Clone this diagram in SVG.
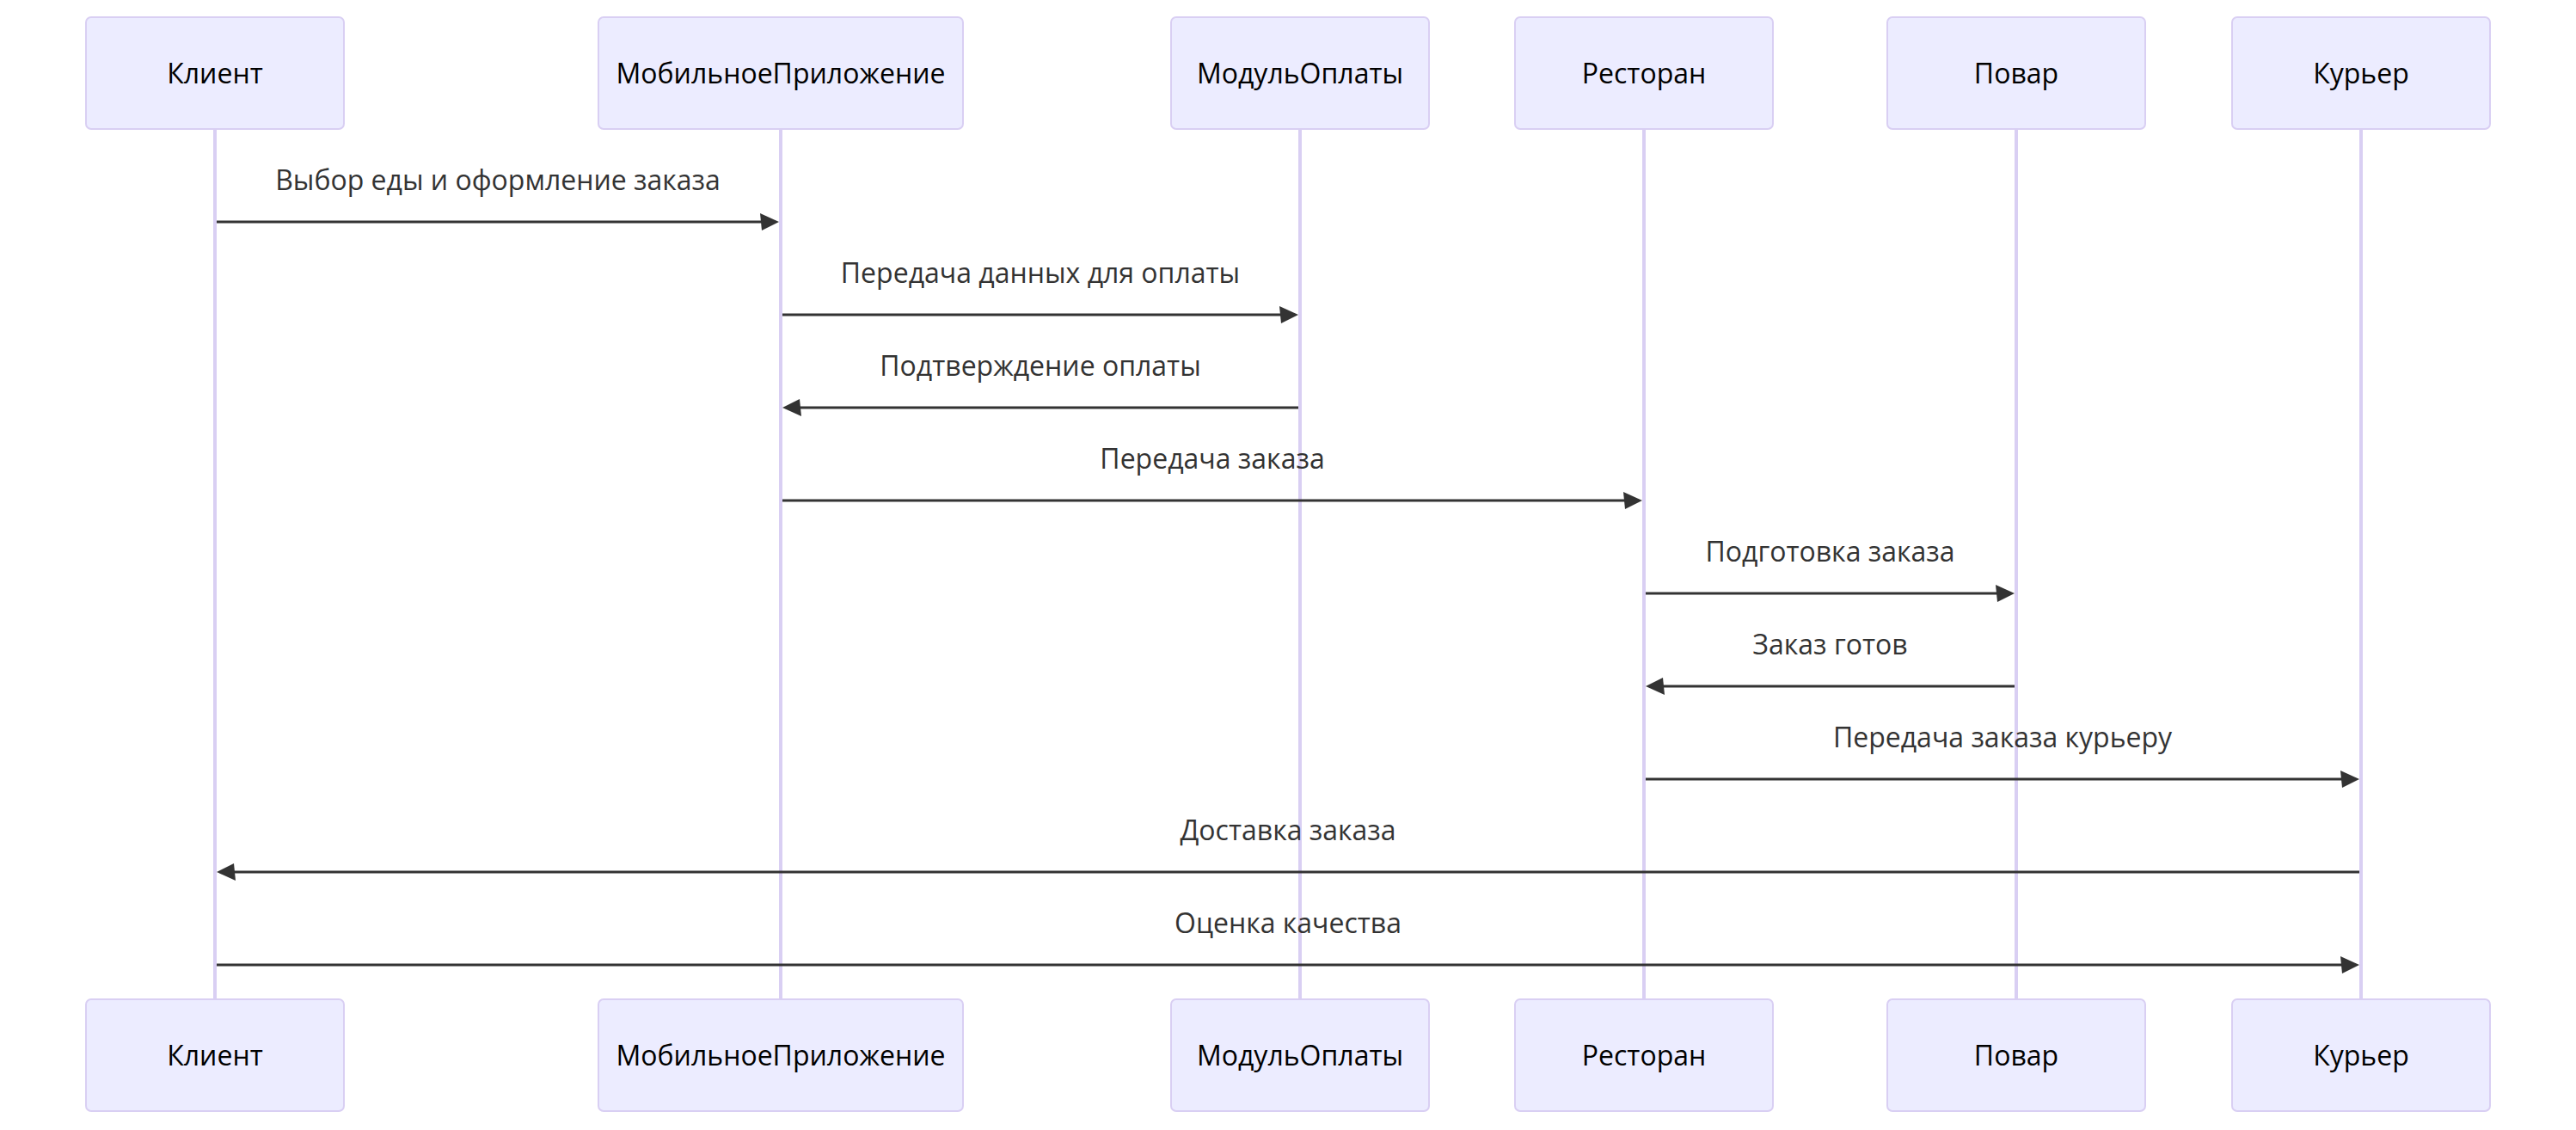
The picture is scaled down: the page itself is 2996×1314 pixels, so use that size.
<svg xmlns="http://www.w3.org/2000/svg" width="2996" height="1314" viewBox="0 0 2996 1314">
<style>
.actor{fill:#ECECFF;stroke:#d9cff3;stroke-width:2}
.life{stroke:#d9cff3;stroke-width:4}
.atext{font-family:"Open Sans","Noto Sans",sans-serif;font-size:32px;fill:#000;text-anchor:middle}
.mtext{font-family:"Open Sans","Noto Sans",sans-serif;font-size:32px;fill:#333;text-anchor:middle}
.msg{stroke:#333;stroke-width:3;fill:none;marker-end:url(#arrow)}
</style>
<defs>
<marker id="arrow" markerUnits="userSpaceOnUse" markerWidth="24" markerHeight="24" viewBox="-2 0 24 20" refX="16" refY="10" orient="auto">
<path d="M -2 0 L 20 10 L 0 20 z" fill="#333"/>
</marker>
</defs>
<rect width="2996" height="1314" fill="#ffffff"/>
<g id="lifelines">
<line class="life" x1="250" y1="150" x2="250" y2="1162"/>
<line class="life" x1="908" y1="150" x2="908" y2="1162"/>
<line class="life" x1="1512" y1="150" x2="1512" y2="1162"/>
<line class="life" x1="1912" y1="150" x2="1912" y2="1162"/>
<line class="life" x1="2345" y1="150" x2="2345" y2="1162"/>
<line class="life" x1="2746" y1="150" x2="2746" y2="1162"/>
</g>
<g id="actor-klient">
<rect class="actor" x="100" y="20" width="300" height="130" rx="6"/>
<text class="atext" x="250" y="97">Клиент</text>
<rect class="actor" x="100" y="1162" width="300" height="130" rx="6"/>
<text class="atext" x="250" y="1239">Клиент</text>
</g>
<g id="actor-mobile">
<rect class="actor" x="696" y="20" width="424" height="130" rx="6"/>
<text class="atext" x="908" y="97">МобильноеПриложение</text>
<rect class="actor" x="696" y="1162" width="424" height="130" rx="6"/>
<text class="atext" x="908" y="1239">МобильноеПриложение</text>
</g>
<g id="actor-payment">
<rect class="actor" x="1362" y="20" width="300" height="130" rx="6"/>
<text class="atext" x="1512" y="97">МодульОплаты</text>
<rect class="actor" x="1362" y="1162" width="300" height="130" rx="6"/>
<text class="atext" x="1512" y="1239">МодульОплаты</text>
</g>
<g id="actor-restaurant">
<rect class="actor" x="1762" y="20" width="300" height="130" rx="6"/>
<text class="atext" x="1912" y="97">Ресторан</text>
<rect class="actor" x="1762" y="1162" width="300" height="130" rx="6"/>
<text class="atext" x="1912" y="1239">Ресторан</text>
</g>
<g id="actor-cook">
<rect class="actor" x="2195" y="20" width="300" height="130" rx="6"/>
<text class="atext" x="2345" y="97">Повар</text>
<rect class="actor" x="2195" y="1162" width="300" height="130" rx="6"/>
<text class="atext" x="2345" y="1239">Повар</text>
</g>
<g id="actor-courier">
<rect class="actor" x="2596" y="20" width="300" height="130" rx="6"/>
<text class="atext" x="2746" y="97">Курьер</text>
<rect class="actor" x="2596" y="1162" width="300" height="130" rx="6"/>
<text class="atext" x="2746" y="1239">Курьер</text>
</g>
<g id="connectors">
<line class="msg" x1="252" y1="258" x2="902" y2="258"/>
<text class="mtext" x="579" y="221">Выбор еды и оформление заказа</text>
<line class="msg" x1="910" y1="366" x2="1506" y2="366"/>
<text class="mtext" x="1210" y="329">Передача данных для оплаты</text>
<line class="msg" x1="1510" y1="474" x2="914" y2="474"/>
<text class="mtext" x="1210" y="437">Подтверждение оплаты</text>
<line class="msg" x1="910" y1="582" x2="1906" y2="582"/>
<text class="mtext" x="1410" y="545">Передача заказа</text>
<line class="msg" x1="1914" y1="690" x2="2339" y2="690"/>
<text class="mtext" x="2128.5" y="653">Подготовка заказа</text>
<line class="msg" x1="2343" y1="798" x2="1918" y2="798"/>
<text class="mtext" x="2128.5" y="761">Заказ готов</text>
<line class="msg" x1="1914" y1="906" x2="2740" y2="906"/>
<text class="mtext" x="2329" y="869">Передача заказа курьеру</text>
<line class="msg" x1="2744" y1="1014" x2="256" y2="1014"/>
<text class="mtext" x="1498" y="977">Доставка заказа</text>
<line class="msg" x1="252" y1="1122" x2="2740" y2="1122"/>
<text class="mtext" x="1498" y="1085">Оценка качества</text>
</g>
</svg>
